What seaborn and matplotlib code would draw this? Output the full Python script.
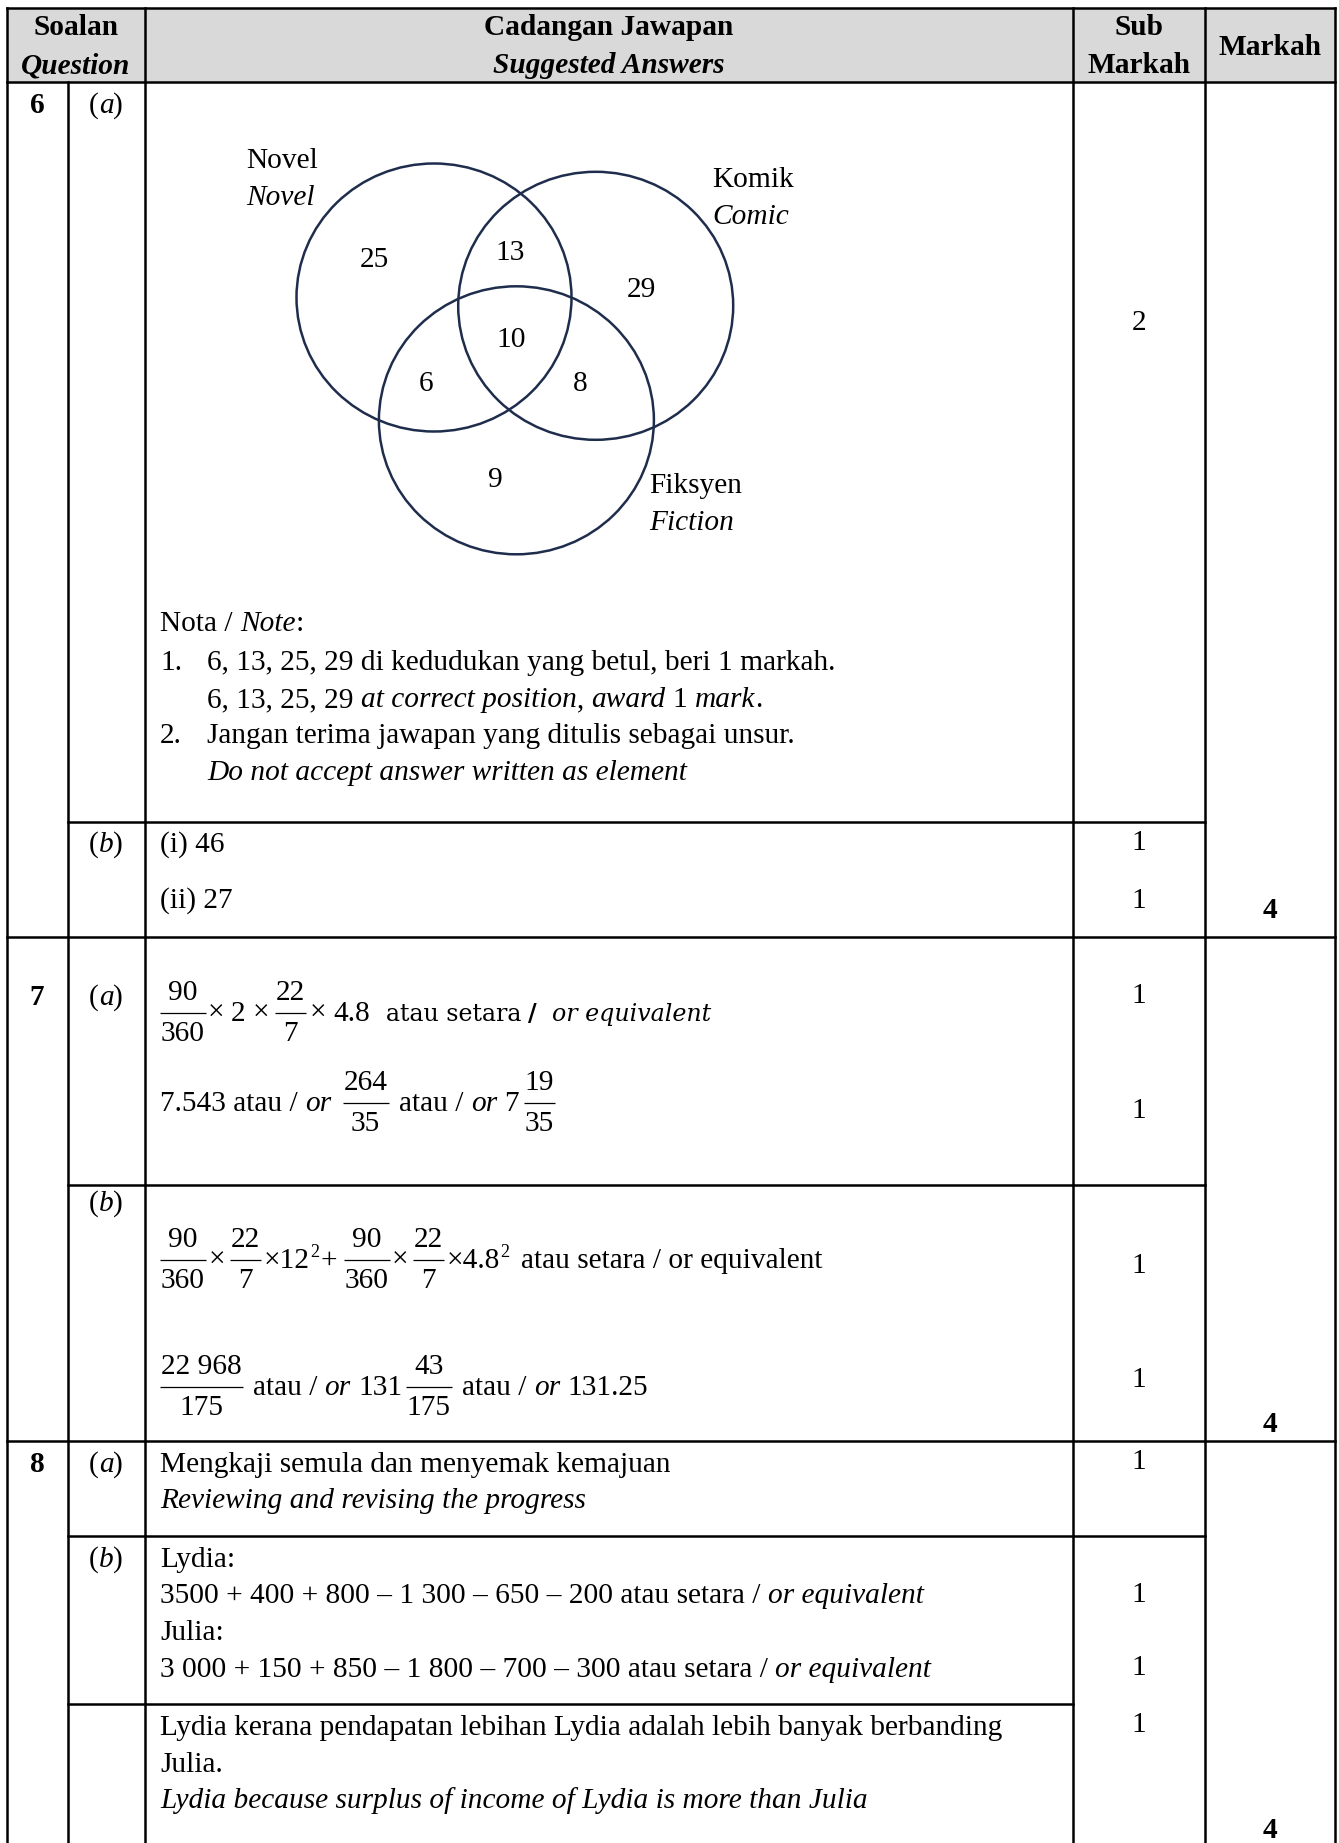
import numpy as np
import pandas as pd
import matplotlib
matplotlib.use("Agg")
import matplotlib.pyplot as plt
from matplotlib.patches import Ellipse, Rectangle
import seaborn as sns

# ---------------- data ----------------
questions = ["6", "7", "8"]
venn_sets = ["Novel", "Komik", "Fiksyen"]
venn_sets_en = ["Novel", "Comic", "Fiction"]
venn_regions = ["N", "NK", "K", "NKF", "NF", "KF", "F"]
venn_counts = [25, 13, 29, 10, 6, 8, 9]
answers_6b = ["(i) 46", "(ii) 27"]
sub_marks = [2, 1, 1, 1, 1, 1, 1, 1, 1, 1, 1]
total_marks = [4, 4, 4]

# ---------------- layout ----------------
W, H = 1339, 1843
XL, XQ, XP, XS, XM, XR = 7, 67.7, 145, 1073, 1205, 1335
YT, YH = 7.5, 82
FS = 21.2
SERIF = ["Liberation Serif", "DejaVu Serif"]
ALT = ["DejaVu Serif"]
ALT_FS = 17.1

sns.set_theme(style="white")
plt.rcParams["font.family"] = SERIF

fig = plt.figure(figsize=(W / 100, H / 100), dpi=100)
ax = fig.add_axes([0, 0, 1, 1])
ax.set_xlim(0, W)
ax.set_ylim(H, 0)
ax.axis("off")
renderer = fig.canvas.get_renderer()

STY = {"r": ("normal", "normal"), "i": ("italic", "normal"),
       "b": ("normal", "bold"), "bi": ("italic", "bold")}


def put(x, y, s, sty="r", size=FS, ha="left", family=None):
    st, wt = STY[sty]
    return ax.text(x, y, s, fontsize=size, fontstyle=st, fontweight=wt,
                   ha=ha, va="baseline", family=family or SERIF, color="black")


def width(s, sty="r", size=FS, family=None):
    t = put(0, -500, s, sty, size, family=family)
    w = t.get_window_extent(renderer).width
    t.remove()
    return w


SPACE = {}


def space_w(sty, size, family):
    key = (sty, size, tuple(family or SERIF))
    if key not in SPACE:
        SPACE[key] = width("x x", sty, size, family) - width("xx", sty, size, family)
    return SPACE[key]


def flow(x, y, runs, draw=True):
    bar = y - 8
    for run in runs:
        kind = run[0]
        if kind == "at":
            x = run[1]
        elif kind == "gap":
            x += run[1]
        elif kind == "frac":
            num, den = run[1], run[2]
            wn, wd = width(num), width(den)
            bw = max(wn, wd) + 2
            if draw:
                cx = x + bw / 2
                put(cx, bar - 13, num, ha="center")
                put(cx, bar + 28, den, ha="center")
                ax.plot([x, x + bw], [bar, bar], color="black", lw=0.9,
                        solid_capstyle="butt")
            x += bw
        elif kind == "sup":
            s = run[1]
            sz = FS * 0.62
            if draw:
                put(x, y - 11, s, "r", sz)
            x += width(s, "r", sz)
        else:
            s, sty = run[1], run[2]
            size = run[3] if len(run) > 3 else FS
            fam = run[4] if len(run) > 4 else None
            lead = len(s) - len(s.lstrip(" "))
            trail = len(s) - len(s.rstrip(" "))
            core = s.strip(" ")
            sp = space_w(sty, size, fam)
            x += lead * sp
            if core:
                if draw:
                    put(x, y, core, sty, size, family=fam)
                x += width(core, sty, size, fam)
            x += trail * sp
    return x


def flow_center(cx, y, runs):
    w = flow(0, y, runs, draw=False)
    flow(cx - w / 2, y, runs)


def T(s, sty="r", size=FS, fam=None):
    return ("t", s, sty, size, fam)


def AT(x):
    return ("at", x)


# ---------------- table grid ----------------
ax.add_patch(Rectangle((XL, YT), XR - XL, YH - YT, facecolor="#d9d9d9",
                       edgecolor="none", zorder=0))
LW = 1.8
vlines = [(XL, YT, H), (XQ, YH, H), (XP, YT, H), (XS, YT, H), (XM, YT, H), (XR, YT, H)]
hlines = [(YT, XL, XR), (YH, XL, XR), (822, XQ, XM), (937, XL, XR),
          (1185, XQ, XM), (1441, XL, XR), (1536, XQ, XM), (1704, XQ, XS)]
for x, y0, y1 in vlines:
    ax.plot([x, x], [y0, y1], color="black", lw=LW, solid_capstyle="projecting")
for y, x0, x1 in hlines:
    ax.plot([x0, x1], [y, y], color="black", lw=LW, solid_capstyle="projecting")

# ---------------- header ----------------
cq, ca, cs, cm = (XL + XP) / 2, (XP + XS) / 2, (XS + XM) / 2, (XM + XR) / 2
put(cq, 35, "Soalan", "b", ha="center")
put(cq, 73, "Question", "bi", ha="center")
put(ca, 35, "Cadangan Jawapan", "b", ha="center")
put(ca, 73, "Suggested Answers", "bi", ha="center")
put(cs, 35, "Sub", "b", ha="center")
put(cs, 73, "Markah", "b", ha="center")
put(cm, 55, "Markah", "b", ha="center")

# ---------------- question numbers / parts ----------------
cn, cpart = 37, 106
for q, yb in zip(questions, [113, 1005, 1472]):
    put(cn, yb, q, "b", ha="center")
for lab, yb in [("a", 113), ("b", 852), ("a", 1005), ("b", 1211), ("a", 1472), ("b", 1567)]:
    flow_center(cpart, yb, [T("("), T(lab, "i"), T(")")])

# ---------------- Venn diagram ----------------
venn_centres = [(434, 297.5), (595.7, 305.8), (516.4, 420.3)]
for (vx, vy) in venn_centres:
    ax.add_patch(Ellipse((vx, vy), 275, 268, fill=False, edgecolor="#1f2d4d", lw=1.8))
label_pos = [(246, 168), (712, 187), (649, 493)]
for name, name_en, (lx, ly) in zip(venn_sets, venn_sets_en, label_pos):
    put(lx, ly, name)
    put(lx, ly + 37, name_en, "i")
region_pos = {"N": (374, 267), "NK": (510, 260), "K": (641, 297), "NKF": (511, 347),
              "NF": (426, 391), "KF": (580, 391), "F": (495, 487)}
for reg, val in zip(venn_regions, venn_counts):
    px, py = region_pos[reg]
    put(px, py, str(val), ha="center")

# ---------------- notes ----------------
XT, XT2 = 160, 207
flow(XT, 631, [T("Nota / "), T("Note", "i"), T(":")])
put(XT, 670, "1.")
put(XT2, 670, "6, 13, 25, 29 di kedudukan yang betul, beri 1 markah.")
flow(XT2, 707, [T("6, 13, 25, 29 "), T("at correct position", "i"), T(", "),
                T("award", "i"), T(" 1 "), T("mark", "i"), T(".")])
put(XT, 743, "2.")
put(XT2, 743, "Jangan terima jawapan yang ditulis sebagai unsur.")
put(XT2, 780, "Do not accept answer written as element", "i")

# 6(b)
put(XT, 852, answers_6b[0])
put(XT, 908, answers_6b[1])

# ---------------- question 7 ----------------
flow(XT, 1021, [("frac", "90", "360"), AT(208), T("×"), AT(231), T("2"), AT(253), T("×"),
                AT(275), ("frac", "22", "7"), AT(310), T("×"), AT(333), T("4.8"),
                AT(386), T("atau setara", "r", ALT_FS, ALT), AT(528), T("/", "b", ALT_FS, ALT),
                AT(552), T("or equivalent", "i", ALT_FS, ALT)])
flow(XT, 1111, [T("7.543 atau / "), T("or", "i"), AT(342.6), ("frac", "264", "35"),
                AT(399), T("atau / "), T("or", "i"), T(" 7"), AT(523.7), ("frac", "19", "35")])
flow(XT, 1268, [("frac", "90", "360"), AT(209), T("×"), AT(230), ("frac", "22", "7"),
                AT(264), T("×12"), ("sup", "2"), AT(321), T("+"), AT(343.8), ("frac", "90", "360"),
                AT(392), T("×"), AT(412.8), ("frac", "22", "7"), AT(447), T("×4.8"), ("sup", "2"),
                AT(520.7), T("atau setara / or equivalent")])
flow(XT, 1395, [("frac", "22 968", "175"), AT(252.7), T("atau / "), T("or", "i"), T(" 131"),
                AT(405.6), ("frac", "43", "175"), AT(462.5), T("atau / "), T("or", "i"),
                T(" 131.25")])

# ---------------- question 8 ----------------
put(XT, 1472, "Mengkaji semula dan menyemak kemajuan")
put(XT, 1508, "Reviewing and revising the progress", "i")
put(XT, 1567, "Lydia:")
flow(XT, 1603, [T("3500 + 400 + 800 – 1 300 – 650 – 200 atau setara / "), T("or equivalent", "i")])
put(XT, 1640, "Julia:")
flow(XT, 1677, [T("3 000 + 150 + 850 – 1 800 – 700 – 300 atau setara / "), T("or equivalent", "i")])
put(XT, 1735, "Lydia kerana pendapatan lebihan Lydia adalah lebih banyak berbanding")
put(XT, 1772, "Julia.")
put(XT, 1808, "Lydia because surplus of income of Lydia is more than Julia", "i")

# ---------------- marks ----------------
sub_y = [330, 850, 908, 1003, 1118, 1273, 1387, 1469, 1602, 1675, 1732]
for m, yb in zip(sub_marks, sub_y):
    put(cs, yb, str(m), ha="center")
for m, yb in zip(total_marks, [918, 1432, 1838]):
    put(cm, yb, str(m), "b", ha="center")

fig.savefig("out.png", dpi=100, facecolor="white")
